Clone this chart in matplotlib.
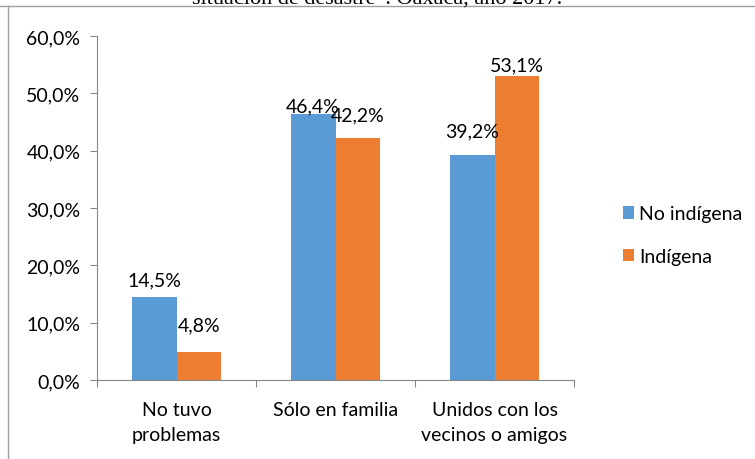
import numpy as np
import matplotlib.pyplot as plt
from matplotlib.lines import Line2D

# --- Data ---
categories = ["No tuvo\nproblemas", "Sólo en familia", "Unidos con los\nvecinos o amigos"]
no_indigena = [14.5, 46.4, 39.2]
indigena = [4.8, 42.2, 53.1]
series_names = ["No indígena", "Indígena"]
yticks = [0, 10, 20, 30, 40, 50, 60]
caption = "situación de desastre\u201d. Oaxaca, año 2017."

# label offsets above bar tops (pixels), as placed in the original
off_no = [17, 8, 24]
off_in = [28, 23, 11]

blue = "#5B9BD5"
orange = "#ED7D31"
gray = "#868686"
fs = 14

plt.rcParams['font.family'] = ['Lato', 'DejaVu Sans']

fig = plt.figure(figsize=(7.55, 4.6), dpi=100)
ax = fig.add_axes([97/755, 1 - 381/460, (574 - 97)/755, (381 - 37)/460])

x = np.arange(len(categories))
w = 0.283
ax.bar(x - w/2, no_indigena, w, color=blue, label=series_names[0])
ax.bar(x + w/2, indigena, w, color=orange, label=series_names[1])

def fmt(v):
    return f"{v:.1f}%".replace(".", ",")

for xi, v, o in zip(x - w/2, no_indigena, off_no):
    ax.annotate(fmt(v), (xi, v), xytext=(0, o), textcoords="offset pixels",
                ha="center", va="center", fontsize=fs, color="#000000")
for xi, v, o in zip(x + w/2, indigena, off_in):
    ax.annotate(fmt(v), (xi, v), xytext=(0, o), textcoords="offset pixels",
                ha="center", va="center", fontsize=fs, color="#000000")

ax.set_xlim(-0.5, 2.5)
ax.set_ylim(0, 60)
ax.set_yticks(yticks)
ax.set_yticklabels([f"{t:.1f}%".replace(".", ",") for t in yticks], fontsize=fs)
ax.set_xticks([-0.5, 0.5, 1.5, 2.5])
ax.set_xticklabels([])
ax.set_xticks(x, minor=True)
ax.set_xticklabels(categories, minor=True, fontsize=fs, linespacing=1.6)
ax.tick_params(axis="x", which="minor", length=0, pad=15)
ax.tick_params(axis="both", which="major", length=5, color=gray, direction="out")
ax.tick_params(axis="y", pad=7)

for s in ["top", "right"]:
    ax.spines[s].set_visible(False)
for s in ["left", "bottom"]:
    ax.spines[s].set_color(gray)

ax.legend(loc="center left", bbox_to_anchor=(613/755, 1 - 236/460), bbox_transform=fig.transFigure,
          frameon=False, fontsize=fs, handlelength=0.6, handleheight=0.6,
          handletextpad=0.25, labelspacing=1.3, borderpad=0)

# outer frame lines and cut-off caption
fig.add_artist(Line2D([0, 1], [1 - 7/460, 1 - 7/460], color="#A0A0A0", lw=1))
fig.add_artist(Line2D([8/755, 8/755], [0, 1 - 7/460], color="#A0A0A0", lw=1))
fig.text(0.5, 1 - 4/460, caption, ha="center", va="baseline",
         family="Liberation Serif", fontsize=16)

fig.savefig("out.png", dpi=100)
